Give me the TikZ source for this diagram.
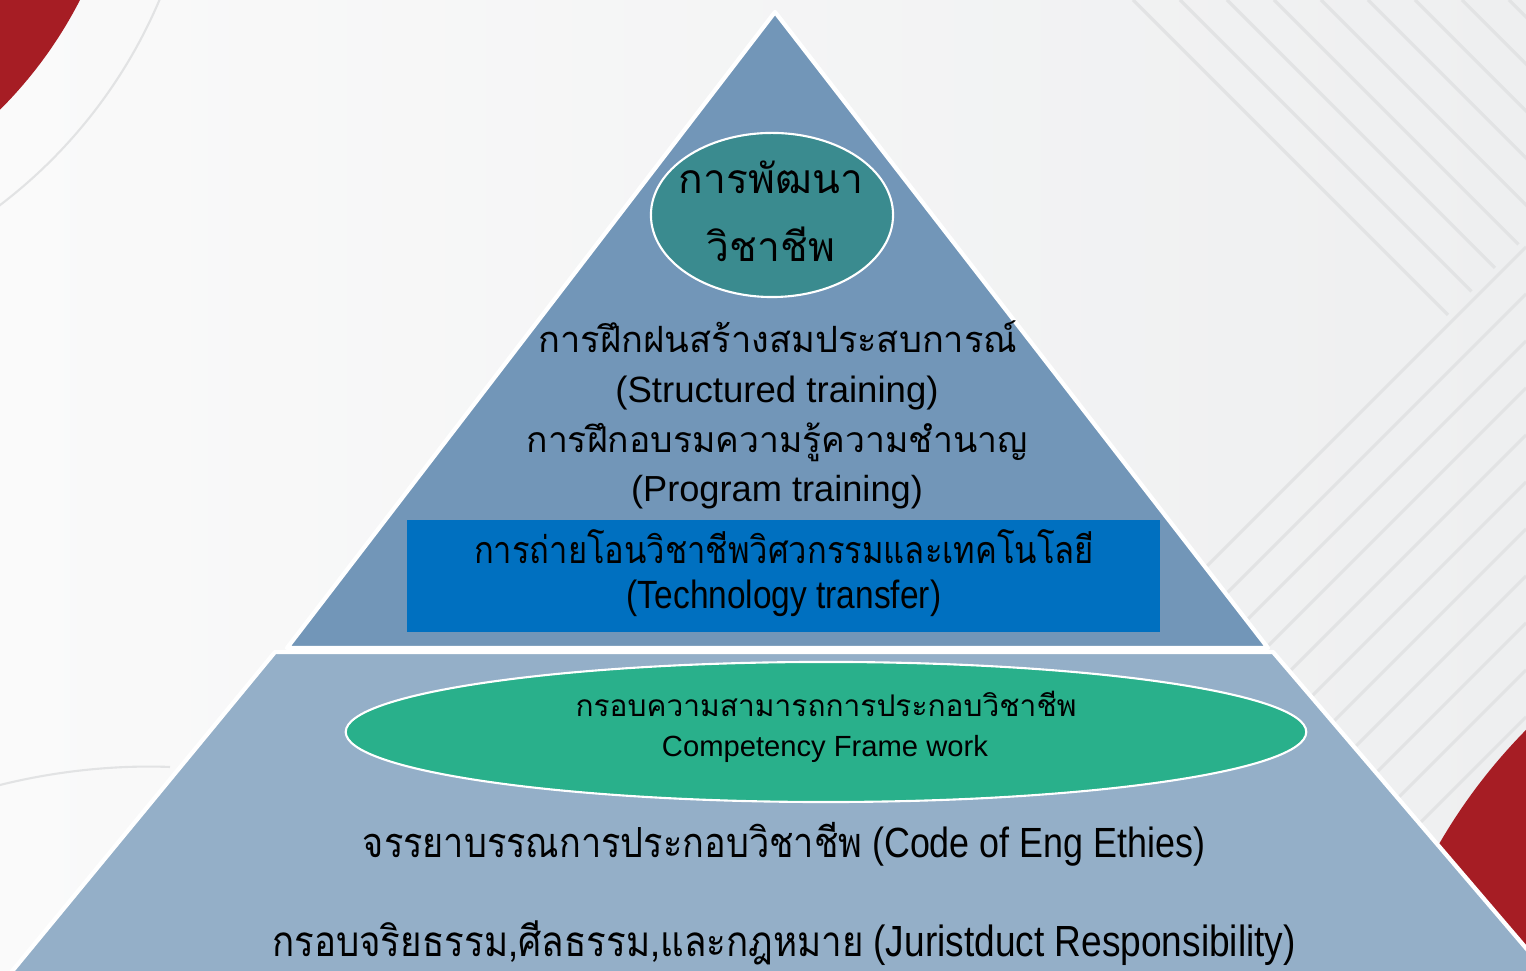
\documentclass[tikz,border=0pt]{standalone}
\usepackage{fontspec}
\setmainfont{Liberation Sans}
\newfontfamily\thaifont[Script=Thai]{Loma}
\newfontfamily\thainarrow[Script=Thai,FakeStretch=0.87]{Loma}
\newfontfamily\latinnarrow[FakeStretch=0.85]{Liberation Sans}
\usetikzlibrary{shapes.geometric,positioning}

\definecolor{bgleft}{HTML}{FAFAFA}
\definecolor{bgright}{HTML}{EEEFF0}
\definecolor{decoline}{HTML}{E2E3E4}
\definecolor{brandred}{HTML}{A61D24}
\definecolor{topblue}{HTML}{7296B8}
\definecolor{lowblue}{HTML}{94AFC8}
\definecolor{tealoval}{HTML}{3A8B8F}
\definecolor{techblue}{HTML}{0070C0}
\definecolor{greenoval}{HTML}{29B08B}

\begin{document}
\begin{tikzpicture}[
    x=0.01cm,
    y=-0.01cm,
    deco/.style={draw=decoline, line width=0.9pt},
    section/.style={draw=white, line width=1.2pt, line join=round},
    oval/.style={
        ellipse,
        draw=white,
        line width=0.6pt,
        inner sep=0pt
    },
    techbox/.style={
        rectangle,
        fill=techblue,
        minimum width=7.53cm,
        minimum height=1.12cm,
        inner sep=0pt
    },
    txt/.style={inner sep=0pt, anchor=base, text=black}
]

\useasboundingbox (0,0) rectangle (1526,971);
\clip (0,0) rectangle (1526,971);

% Background
\shade[left color=bgleft, right color=bgright] (0,0) rectangle (1526,971);

% Diagonal stripes, top right
\foreach \k in {0,...,8}
    \draw[deco] ({1133+47*\k},0) -- ({(1763+1133+47*\k)/2},{(1763-1133-47*\k)/2});
\foreach \k in {0,...,15}
    \draw[deco] (1526,{1773+47*\k-1526}) -- ++(-900,900);

% Red corners and thin arcs
\fill[brandred] (-306,-197) circle [radius=4.33cm];
\draw[decoline, line width=0.6pt] (-306,-197) circle [radius=5.05cm];
\draw[decoline, line width=0.6pt] (0,785) .. controls (60,770) and (120,765) .. (170,767);
\fill[brandred] (1928,1126) circle [radius=5.64cm];

% Pyramid corners
\coordinate (apex) at (775,12);
\coordinate (topleft) at (287,648);
\coordinate (topright) at (1268,648);
\coordinate (lowleft) at (275,652);
\coordinate (lowright) at (1273,652);
\coordinate (baseright) at (1549,975);
\coordinate (baseleft) at (9,975);

% Pyramid sections
\fill[topblue] (apex) -- (topleft) -- (topright) -- cycle;
\draw[section] (apex) -- (topleft) -- (topright) -- cycle;
\fill[lowblue] (lowleft) -- (lowright) -- (baseright) -- (baseleft) -- cycle;
\draw[section] (lowleft) -- (lowright) -- (baseright) -- (baseleft) -- cycle;

% Top oval
\node[oval, fill=tealoval, minimum width=2.42cm, minimum height=1.64cm] (devoval) at (772,215) {};
\node[txt, font=\thaifont\fontsize{11.6}{14}\selectfont] (devtop) at (771,194) {การพัฒนา};
\node[txt, font=\thaifont\fontsize{11.6}{14}\selectfont] (devbottom) at (771,262) {วิชาชีพ};

% Training lines
\node[txt, font=\thaifont\fontsize{10.3}{12}\selectfont] (structth) at (778,353) {การฝึกฝนสร้างสมประสบการณ์};
\node[txt, font=\fontsize{10.4}{12}\selectfont] (structen) at (777,403) {(Structured training)};
\node[txt, font=\thaifont\fontsize{10.1}{12}\selectfont] (progth) at (777,453) {การฝึกอบรมความรู้ความชำนาญ};
\node[txt, font=\fontsize{10.3}{12}\selectfont] (progen) at (777,502) {(Program training)};

% Technology transfer box
\node[techbox] (techbox) at (783.5,576) {};
\node[txt, font=\thainarrow\fontsize{10.7}{12}\selectfont] (techth) at (784,564) {การถ่ายโอนวิชาชีพวิศวกรรมและเทคโนโลยี};
\node[txt, font=\latinnarrow\fontsize{11.2}{13}\selectfont] (techen) at (784,609) {(Technology transfer)};

% Competency oval
\node[oval, fill=greenoval, minimum width=9.6cm, minimum height=1.4cm] (compoval) at (826,732) {};
\node[txt, font=\thaifont\fontsize{8.5}{10}\selectfont] (compth) at (826,717) {กรอบความสามารถการประกอบวิชาชีพ};
\node[txt, font=\fontsize{8.3}{10}\selectfont] (compen) at (825,757) {Competency Frame work};

% Base lines
\node[txt] (ethics) at (784,858)
    {{\thainarrow\fontsize{11.8}{14}\selectfont จรรยาบรรณการประกอบวิชาชีพ} {\latinnarrow\fontsize{12}{14}\selectfont (Code of Eng Ethies)}};
\node[txt] (juris) at (784,957)
    {{\thainarrow\fontsize{12}{14}\selectfont กรอบจริยธรรม,ศีลธรรม,และกฎหมาย} {\latinnarrow\fontsize{12.4}{14}\selectfont (Juristduct Responsibility)}};

\end{tikzpicture}
\end{document}
